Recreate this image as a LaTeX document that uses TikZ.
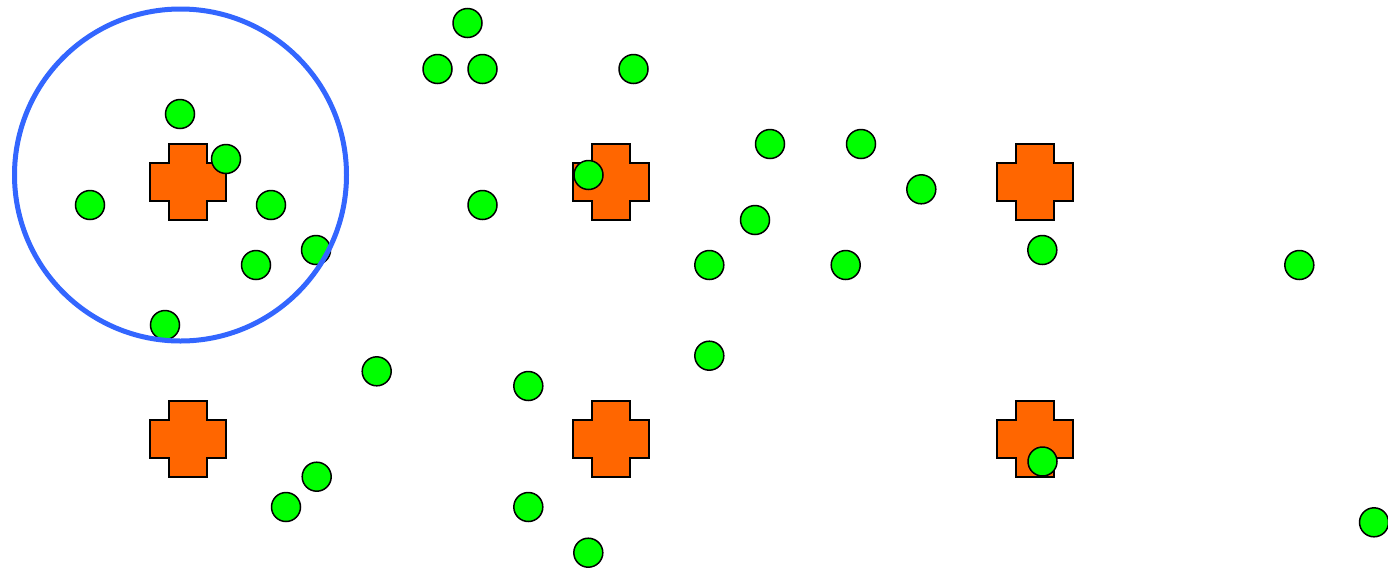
\documentclass[tikz,border=0pt]{standalone}
\definecolor{dotgreen}{HTML}{00FF00}
\definecolor{crossorange}{HTML}{FF6600}
\definecolor{ringblue}{HTML}{3366FF}
\begin{document}
\begin{tikzpicture}[x=1pt,y=-1pt,
  dot/.style={circle,draw=black,line width=1.5pt,fill=dotgreen,minimum size=29pt,inner sep=0pt},
  plus/.pic={\path[draw=black,line width=1.5pt,fill=crossorange]
     (-19,-38) -- (19,-38) -- (19,-19) -- (38,-19) -- (38,19) -- (19,19) -- (19,38)
     -- (-19,38) -- (-19,19) -- (-38,19) -- (-38,-19) -- (-19,-19) -- cycle;},
  ring/.style={draw=ringblue,line width=5pt}]
\useasboundingbox (0,0) rectangle (1388,571);
% crosses
\pic at (188,182) {plus};
\pic at (611,182) {plus};
\pic at (1035,182) {plus};
\pic at (188,439) {plus};
\pic at (611,439) {plus};
\pic at (1035,439) {plus};
% green dots
\node[dot] (g1) at (467.5,23) {};
\node[dot] (g2) at (437.5,69) {};
\node[dot] (g3) at (482.5,69) {};
\node[dot] (g4) at (633.5,69) {};
\node[dot] (g5) at (180,114) {};
\node[dot] (g6) at (226,159) {};
\node[dot] (g7) at (90,205) {};
\node[dot] (g8) at (271,205) {};
\node[dot] (g9) at (316,250) {};
\node[dot] (g10) at (256,265) {};
\node[dot] (g11) at (165,325) {};
\node[dot] (g12) at (482.5,205) {};
\node[dot] (g13) at (588.5,175) {};
\node[dot] (g14) at (770,144) {};
\node[dot] (g15) at (861,144) {};
\node[dot] (g16) at (921.3,189.3) {};
\node[dot] (g17) at (755,220) {};
\node[dot] (g18) at (709.3,265) {};
\node[dot] (g19) at (845.7,265) {};
\node[dot] (g20) at (1042.3,250) {};
\node[dot] (g21) at (1299.3,265) {};
\node[dot] (g22) at (709.3,355.7) {};
\node[dot] (g23) at (376.7,371.3) {};
\node[dot] (g24) at (528.3,386) {};
\node[dot] (g25) at (316.7,476.7) {};
\node[dot] (g26) at (286,507) {};
\node[dot] (g27) at (528.3,507) {};
\node[dot] (g28) at (588.3,552.7) {};
\node[dot] (g29) at (1042.5,461.5) {};
\node[dot] (g30) at (1374,522.3) {};
% blue ring
\node[ring,circle,minimum size=332pt,inner sep=0pt] (ring) at (180.5,175) {};
\end{tikzpicture}
\end{document}
